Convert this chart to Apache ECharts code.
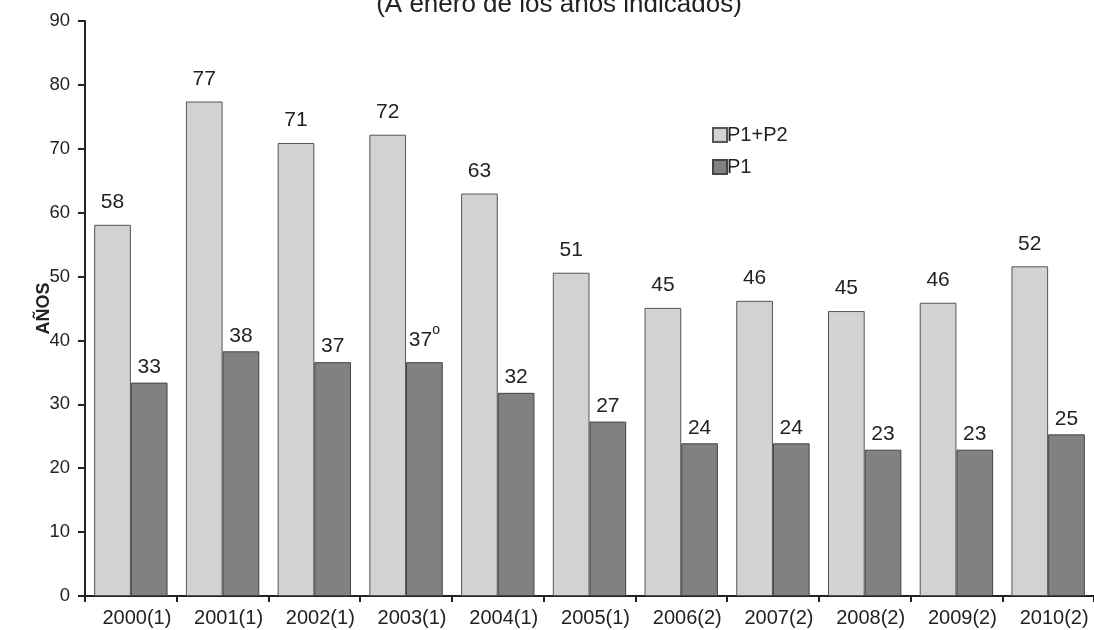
<!DOCTYPE html>
<html>
<head>
<meta charset="utf-8">
<script src="https://cdn.jsdelivr.net/npm/echarts@6/dist/echarts.min.js"></script>
<style>
  html, body { margin: 0; padding: 0; background: #fff; }
  #chart { width: 1094px; height: 630px; }
</style>
</head>
<body>
<div id="chart"></div>
<script>
// categorías (años)
var categories = ["2000(1)", "2001(1)", "2002(1)", "2003(1)", "2004(1)", "2005(1)",
  "2006(2)", "2007(2)", "2008(2)", "2009(2)", "2010(2)"];
// P1+P2
var p1p2 = [58.1, 77.4, 70.9, 72.2, 63.0, 50.6, 45.1, 46.2, 44.6, 45.9, 51.6];
// P1
var p1 = [33.4, 38.3, 36.6, 36.6, 31.8, 27.3, 23.9, 23.9, 22.9, 22.9, 25.3];
var yTicks = [0, 10, 20, 30, 40, 50, 60, 70, 80, 90];

var chart = echarts.init(document.getElementById("chart"));
var font = "Liberation Sans, Arial, sans-serif";

var option = {
  animation: false,
  title: {
    text: "(A enero de los años indicados)",
    left: 554,
    top: -13,
    textAlign: "center",
    textStyle: { fontFamily: font, fontSize: 26, fontWeight: "normal", color: "#222" }
  },
  legend: {
    orient: "vertical",
    left: 707,
    top: 120,
    itemWidth: 14,
    itemHeight: 14,
    itemGap: 12,
    icon: "rect",
    textStyle: { fontFamily: font, fontSize: 20, color: "#222", padding: [0, 0, 0, -5] },
    data: ["P1+P2", "P1"]
  },
  grid: { left: 85, top: 21, height: 575, width: 1020 },
  xAxis: {
    type: "category",
    data: categories,
    axisLine: { lineStyle: { color: "#222", width: 2 } },
    axisTick: { show: true, interval: 0, length: 6, lineStyle: { color: "#222", width: 2 } },
    axisLabel: {
      interval: 0,
      hideOverlap: false,
      fontFamily: font, fontSize: 20, color: "#222", margin: 12,
      padding: [0, 0, 0, 12]
    }
  },
  yAxis: {
    type: "value",
    min: yTicks[0],
    max: yTicks[yTicks.length - 1],
    interval: 10,
    name: "AÑOS",
    nameLocation: "middle",
    nameGap: 32,
    nameMoveOverlap: false,
    nameTextStyle: { fontFamily: font, fontSize: 18, fontWeight: "bold", color: "#222" },
    axisLine: { show: true, lineStyle: { color: "#222", width: 2 } },
    axisTick: { show: true, length: 7, lineStyle: { color: "#222", width: 2 } },
    axisLabel: { fontFamily: font, fontSize: 18.5, color: "#222", margin: 15 },
    splitLine: { show: false }
  },
  series: [
    {
      name: "P1+P2",
      type: "bar",
      data: p1p2,
      barGap: "0%",
      barCategoryGap: "20%",
      itemStyle: { color: "#d1d2d4", borderColor: "#555", borderWidth: 1 },
      label: {
        show: true,
        position: "top",
        distance: 12,
        fontFamily: font,
        fontSize: 21,
        color: "#222",
        formatter: function (p) { return Math.round(p.value); }
      }
    },
    {
      name: "P1",
      type: "bar",
      data: p1,
      itemStyle: { color: "#808183", borderColor: "#444", borderWidth: 1 },
      label: {
        show: true,
        position: "top",
        distance: 5,
        fontFamily: font,
        fontSize: 21,
        color: "#222",
        formatter: function (p) {
          var v = Math.round(p.value);
          // el "°" pequeño junto al 37 de 2003
          return p.dataIndex === 3 ? v + "{sup|o}" : v;
        },
        rich: {
          sup: { fontFamily: font, fontSize: 14, color: "#222", verticalAlign: "top", padding: [0, 0, 20, 0] }
        }
      }
    }
  ]
};

chart.setOption(option);
</script>
</body>
</html>
